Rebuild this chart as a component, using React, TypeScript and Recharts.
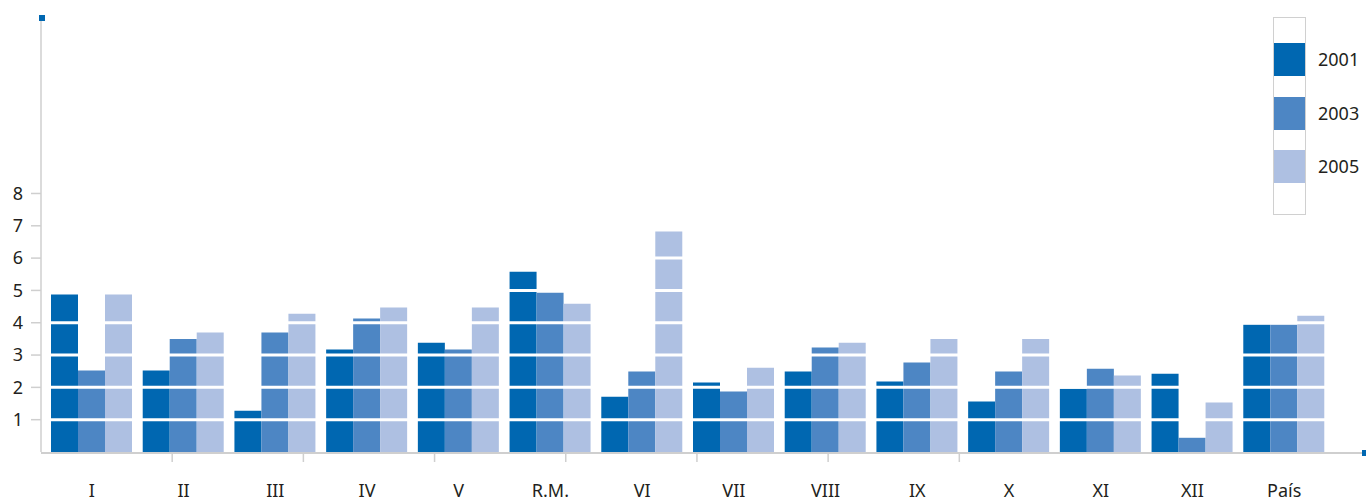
import React from 'react';
import { BarChart, Bar, XAxis, YAxis, ReferenceLine } from 'recharts';

// regional values
const categories = ['I', 'II', 'III', 'IV', 'V', 'R.M.', 'VI', 'VII', 'VIII', 'IX', 'X', 'XI', 'XII', 'País'];
const y2001 = [4.87, 2.52, 1.28, 3.17, 3.38, 5.58, 1.71, 2.15, 2.49, 2.18, 1.56, 1.96, 2.42, 3.94];
const y2003 = [2.52, 3.5, 3.7, 4.13, 3.17, 4.93, 2.49, 1.87, 3.23, 2.77, 2.49, 2.58, 0.44, 3.94];
const y2005 = [4.87, 3.7, 4.28, 4.47, 4.47, 4.59, 6.82, 2.61, 3.38, 3.5, 3.5, 2.37, 1.53, 4.22];

const yTicks = [1, 2, 3, 4, 5, 6, 7, 8];
const minorTicks = [1, 2, 3, 4, 5, 6, 7];

const series = [
  { key: 'y2001', name: '2001', color: '#0067b1' },
  { key: 'y2003', name: '2003', color: '#4d86c4' },
  { key: 'y2005', name: '2005', color: '#aec0e2' },
];

const data = categories.map((name, i) => ({
  name,
  y2001: y2001[i],
  y2003: y2003[i],
  y2005: y2005[i],
}));

const font = '"Noto Sans", sans-serif';
const textColor = '#231f20';
const axisColor = '#cfcfcf';

const CategoryTick = (props: any) => {
  const { x, y, payload } = props;
  return (
    <text x={x} y={y + 36} textAnchor="middle" fill={textColor} fontSize={18} fontFamily={font}>
      {payload.value}
    </text>
  );
};

const EmptyTick = () => <g />;

// white separators drawn on top of the bars, starting just right of the y axis
const WhiteLine = (props: any) => {
  const { x1, x2, y1, y2 } = props;
  return <line x1={x1 + 2} x2={x2} y1={y1} y2={y2} stroke="#fff" strokeWidth={3} />;
};

export default function App() {
  return (
    <div style={{ position: 'relative', width: 1366, height: 502, fontFamily: font }}>
      <style>{'body { margin: 0; overflow: hidden; }'}</style>
      <BarChart
        width={1366}
        height={502}
        data={data}
        margin={{ top: 18, right: 0, bottom: 0, left: 0 }}
        barCategoryGap={5}
        barGap={0}
      >
        <XAxis
          xAxisId="t"
          type="number"
          dataKey={() => 0}
          domain={[0, 10.1]}
          ticks={minorTicks}
          height={1}
          axisLine={false}
          tick={<EmptyTick />}
          tickSize={10}
          tickLine={{ stroke: axisColor, strokeWidth: 1.5 }}
          allowDataOverflow
        />
        <XAxis
          xAxisId="z"
          dataKey="name"
          height={49}
          padding={{ left: 5, right: 36 }}
          axisLine={{ stroke: axisColor, strokeWidth: 2 }}
          tickLine={false}
          tick={<CategoryTick />}
          interval={0}
        />
        <YAxis
          width={41}
          domain={[0, 13.43]}
          ticks={yTicks}
          allowDataOverflow
          axisLine={{ stroke: axisColor, strokeWidth: 1.5 }}
          tickLine={{ stroke: axisColor, strokeWidth: 1.5 }}
          tickSize={10}
          tickMargin={8}
          tick={{ fill: textColor, fontSize: 18, fontFamily: font }}
        />
        {series.map((s) => (
          <Bar key={s.key} xAxisId="z" dataKey={s.key} name={s.name} fill={s.color} isAnimationActive={false} />
        ))}
        {yTicks.map((t) => (
          <ReferenceLine key={t} xAxisId="z" y={t} shape={<WhiteLine />} />
        ))}
      </BarChart>

      {/* end markers of the axes */}
      <div style={{ position: 'absolute', left: 39, top: 15, width: 6, height: 6, background: '#0067b1' }} />
      <div style={{ position: 'absolute', left: 1362, top: 450, width: 6, height: 6, background: '#0067b1' }} />

      {/* legend */}
      <div
        style={{
          position: 'absolute',
          left: 1273,
          top: 17,
          width: 31,
          height: 196,
          border: '1px solid #d0d0d0',
        }}
      >
        {series.map((s, i) => (
          <div key={s.key} style={{ position: 'absolute', left: 0, top: 25 + i * 53.5, width: 31, height: 33, background: s.color }} />
        ))}
      </div>
      {series.map((s, i) => (
        <div
          key={s.key}
          style={{
            position: 'absolute',
            left: 1318,
            top: 46 + i * 53.5,
            lineHeight: '26px',
            fontSize: 18,
            color: textColor,
          }}
        >
          {s.name}
        </div>
      ))}
    </div>
  );
}
